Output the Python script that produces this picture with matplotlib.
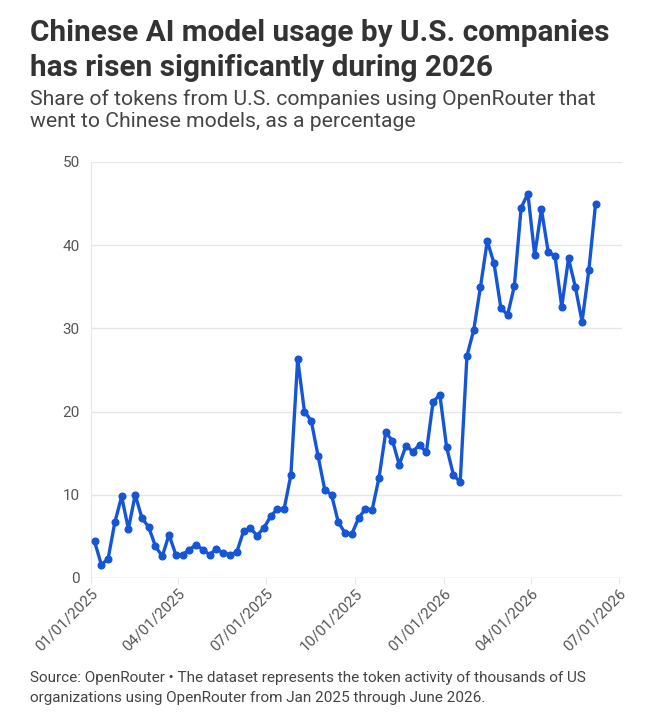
import matplotlib
matplotlib.use("Agg")
import matplotlib.pyplot as plt
import matplotlib.dates as mdates
import numpy as np
import pandas as pd

# weekly share (%) of U.S. OpenRouter tokens going to Chinese models
start_date = "2025-01-05"
share = [
    4.4, 1.6, 2.3, 6.7, 9.8, 5.9, 10.0, 7.2, 6.1, 3.8,
    2.6, 5.2, 2.8, 2.8, 3.4, 4.0, 3.4, 2.8, 3.5, 3.0,
    2.8, 3.1, 5.6, 6.0, 5.1, 6.0, 7.4, 8.3, 8.3, 12.4,
    26.3, 20.0, 18.9, 14.7, 10.6, 10.0, 6.7, 5.4, 5.3, 7.2,
    8.3, 8.2, 12.0, 17.5, 16.5, 13.6, 15.9, 15.2, 16.0, 15.1,
    21.2, 22.0, 15.7, 12.4, 11.5, 26.7, 29.8, 35.0, 40.5, 37.8,
    32.5, 31.6, 35.1, 44.5, 46.2, 38.8, 44.3, 39.2, 38.7, 32.6,
    38.4, 35.0, 30.8, 37.0, 45.0,
]
weeks = pd.date_range(start_date, periods=len(share), freq="7D")

tick_dates = pd.to_datetime(["2025-01-01", "2025-04-01", "2025-07-01", "2025-10-01",
                             "2026-01-01", "2026-04-01", "2026-07-01"])
y_ticks = [0, 10, 20, 30, 40, 50]

title = "Chinese AI model usage by U.S. companies\nhas risen significantly during 2026"
subtitle = "Share of tokens from U.S. companies using OpenRouter that\nwent to Chinese models, as a percentage"
footer = ("Source: OpenRouter \u2022 The dataset represents the token activity of thousands of US\n"
          "organizations using OpenRouter from Jan 2025 through June 2026.")

plt.rcParams["font.family"] = ["Roboto", "DejaVu Sans"]

fig = plt.figure(figsize=(6.5, 7.25), dpi=100)
ax = fig.add_axes([0.1395, 0.2028, 0.817, 0.5738])

line_color = "#1556d6"
grid_color = "#e6e6e6"
text_gray = "#555555"

ax.plot(weeks, share, color=line_color, linewidth=2.4, marker="o", markersize=4.8,
        zorder=3, clip_on=False, solid_joinstyle="round")

ax.set_ylim(0, 50)
ax.set_xlim(pd.Timestamp("2025-01-01"), pd.Timestamp("2026-07-04"))
ax.set_yticks(y_ticks)
ax.set_xticks(tick_dates)
ax.xaxis.set_major_formatter(mdates.DateFormatter("%m/%d/%Y"))

ax.grid(axis="y", color=grid_color, linewidth=1)
for side in ["top", "right", "bottom"]:
    ax.spines[side].set_visible(False)
ax.spines["left"].set_color(grid_color)
ax.axhline(0, color=grid_color, linewidth=1, zorder=1)

ax.tick_params(axis="y", length=0, pad=8, labelsize=11, labelcolor=text_gray)
ax.tick_params(axis="x", length=4, color=grid_color, pad=2, labelsize=11, labelcolor=text_gray)
for lbl in ax.get_xticklabels():
    lbl.set_rotation(45)
    lbl.set_ha("right")
    lbl.set_rotation_mode("anchor")

fig.text(0.046, 0.974, title, fontsize=21.4, fontweight="bold", color="#333333",
         va="top", ha="left", linespacing=1.33)
fig.text(0.046, 0.877, subtitle, fontsize=15.2, color="#444444", va="top", ha="left",
         linespacing=1.25)
fig.text(0.046, 0.074, footer, fontsize=11, color="#444444", va="top", ha="left",
         linespacing=1.55)

fig.savefig("out.png", dpi=100)
